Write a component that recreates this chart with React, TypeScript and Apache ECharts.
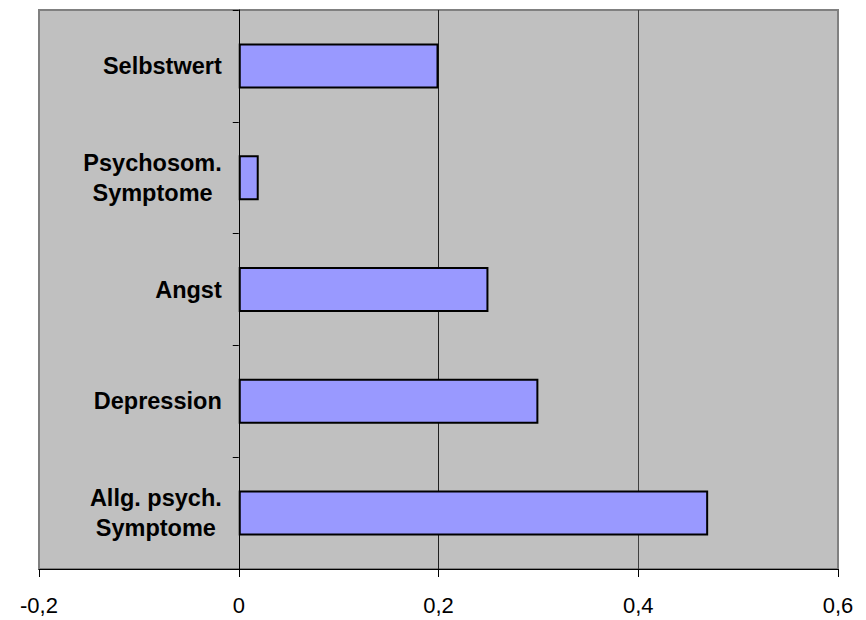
import React, { useEffect, useRef } from "react";
import * as echarts from "echarts";

const categories = ["Allg. psych.\nSymptome", "Depression", "Angst", "Psychosom.\nSymptome", "Selbstwert"];
const values = [0.47, 0.3, 0.25, 0.02, 0.2];
const xTicks = { min: -0.2, max: 0.6, interval: 0.2 };

const GRID_LEFT = 39;
const GRID_RIGHT = 28;
const WIDTH = 866;

export default function App() {
  const ref = useRef<HTMLDivElement>(null);
  useEffect(() => {
    if (!ref.current) return;
    const chart = echarts.init(ref.current, null, { renderer: "svg" });
    const plotW = WIDTH - GRID_LEFT - GRID_RIGHT;
    const zeroOffset = ((0 - xTicks.min) / (xTicks.max - xTicks.min)) * plotW;
    chart.setOption({
      animation: false,
      backgroundColor: "#ffffff",
      grid: {
        left: GRID_LEFT,
        right: GRID_RIGHT,
        top: 10,
        bottom: 51,
        containLabel: false,
        outerBoundsMode: "none",
        show: true,
        backgroundColor: "#C0C0C0",
        borderColor: "#808080",
        borderWidth: 2,
      },
      xAxis: {
        type: "value",
        min: xTicks.min,
        max: xTicks.max,
        interval: xTicks.interval,
        axisLine: { show: true, onZero: false, lineStyle: { color: "#000", width: 1 } },
        axisTick: { show: true, length: 8, lineStyle: { color: "#000" } },
        axisLabel: {
          margin: 25,
          fontFamily: "Liberation Sans, Arial, sans-serif",
          fontSize: 22,
          color: "#000",
          formatter: (v: number) => (Math.abs(v) < 1e-9 ? "0" : v.toFixed(1).replace(".", ",")),
        },
        splitLine: {
          show: true,
          lineStyle: { color: ["#808080", "#000000", "#202020", "#404040", "#808080"], width: 1 },
        },
      },
      yAxis: {
        type: "category",
        position: "left",
        offset: -zeroOffset,
        data: categories,
        axisLine: { show: true, onZero: false, lineStyle: { color: "#000", width: 1 } },
        axisTick: { show: true, length: 6, lineStyle: { color: "#000" } },
        axisLabel: {
          margin: 17,
          fontFamily: "Liberation Sans, Arial, sans-serif",
          fontWeight: "bold",
          fontSize: 23.5,
          color: "#000",
          formatter: (v: string) =>
            v.indexOf("\n") >= 0
              ? v
                  .split("\n")
                  .map((l) => "{c|" + l + "}")
                  .join("\n")
              : v,
          rich: {
            c: {
              align: "center",
              fontFamily: "Liberation Sans, Arial, sans-serif",
              fontWeight: "bold",
              fontSize: 23.5,
              lineHeight: 30,
              color: "#000",
            },
          },
        },
        splitLine: { show: false },
      },
      series: [
        {
          type: "bar",
          data: values,
          barWidth: 45,
          itemStyle: { color: "#9999FF", borderColor: "#000", borderWidth: 2 },
        },
      ],
    });
    return () => chart.dispose();
  }, []);
  return <div ref={ref} style={{ position: "fixed", left: 0, top: 0, width: WIDTH, height: 620 }} />;
}
